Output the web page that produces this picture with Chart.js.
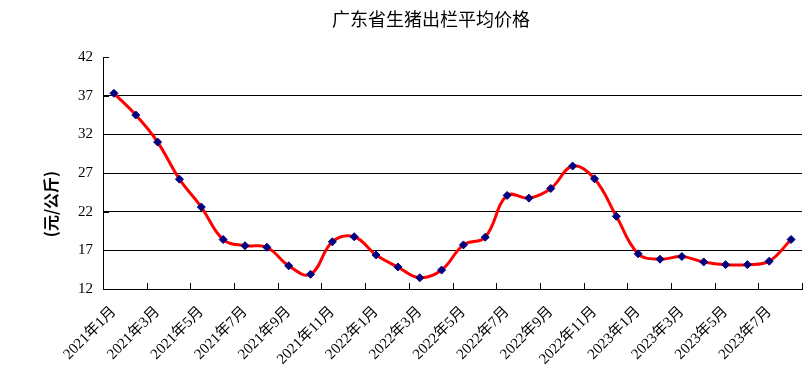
<!DOCTYPE html>
<html>
<head>
<meta charset="utf-8">
<script src="https://cdn.jsdelivr.net/npm/chart.js@4"></script>
<style>
  html, body { margin: 0; padding: 0; background: #fff; }
  #wrap { width: 810px; height: 386px; }
</style>
</head>
<body>
<div id="wrap"><canvas id="price"></canvas></div>
<script>
// monthly labels, 2021-01 .. 2023-08
const months = [
  "2021年1月", "2021年2月", "2021年3月", "2021年4月", "2021年5月", "2021年6月",
  "2021年7月", "2021年8月", "2021年9月", "2021年10月", "2021年11月", "2021年12月",
  "2022年1月", "2022年2月", "2022年3月", "2022年4月", "2022年5月", "2022年6月",
  "2022年7月", "2022年8月", "2022年9月", "2022年10月", "2022年11月", "2022年12月",
  "2023年1月", "2023年2月", "2023年3月", "2023年4月", "2023年5月", "2023年6月",
  "2023年7月", "2023年8月"
];

// 元/公斤
const prices = [
  37.3, 34.5, 31.0, 26.2, 22.6, 18.4, 17.6, 17.4, 15.0, 13.9, 18.1, 18.75,
  16.4, 14.85, 13.45, 14.45, 17.7, 18.7, 24.1, 23.75, 25.0, 27.9, 26.25, 21.4,
  16.55, 15.85, 16.2, 15.5, 15.15, 15.15, 15.6, 18.4
];

const yTicks = [12, 17, 22, 27, 32, 37, 42];

const titleText = "广东省生猪出栏平均价格";
const yLabelText = "(元/公斤)";

// draws title, y label and the small inward tick marks
const decorPlugin = {
  id: "decor",
  afterDraw(chart) {
    const ctx = chart.ctx;
    const area = chart.chartArea;
    const x = chart.scales.x;
    const y = chart.scales.y;

    ctx.save();
    ctx.fillStyle = "#000";
    ctx.font = '18px "Noto Sans CJK SC"';
    ctx.textAlign = "center";
    ctx.textBaseline = "middle";
    ctx.fillText(titleText, 431, 19);

    ctx.translate(51, 204);
    ctx.rotate(-Math.PI / 2);
    ctx.font = 'bold 16px "Noto Sans CJK SC"';
    ctx.fillText(yLabelText, 0, 0);
    ctx.restore();

    ctx.save();
    ctx.strokeStyle = "#000";
    ctx.lineWidth = 1;
    ctx.beginPath();
    const half = (x.getPixelForValue(1) - x.getPixelForValue(0)) / 2;
    for (let i = 0; i <= months.length; i += 2) {
      const px = Math.round(x.getPixelForValue(i) - half) + 0.5;
      ctx.moveTo(px, area.bottom);
      ctx.lineTo(px, area.bottom - 6);
    }
    yTicks.forEach((v) => {
      const py = Math.round(y.getPixelForValue(v)) + 0.5;
      ctx.moveTo(area.left, py);
      ctx.lineTo(area.left + 6, py);
    });
    ctx.stroke();
    ctx.restore();
  },
};

new Chart(document.getElementById("price"), {
  type: "line",
  data: {
    labels: months,
    datasets: [
      {
        data: prices,
        borderColor: "#ff0000",
        borderWidth: 3,
        tension: 0.4,
        pointStyle: "rectRot",
        pointRadius: 4,
        pointBackgroundColor: "#000080",
        pointBorderColor: "#000080",
        pointBorderWidth: 1,
      },
    ],
  },
  options: {
    responsive: true,
    maintainAspectRatio: false,
    animation: false,
    layout: { padding: { top: 57, right: 8, left: 0, bottom: 0 } },
    plugins: {
      legend: { display: false },
      tooltip: { enabled: false },
      title: { display: false },
    },
    scales: {
      x: {
        type: "category",
        offset: true,
        grid: { display: false, drawTicks: false },
        border: { display: true, color: "#000", width: 1 },
        ticks: {
          autoSkip: false,
          maxRotation: 45,
          minRotation: 45,
          padding: 14,
          color: "#000",
          font: { family: '"Liberation Serif", "Noto Sans CJK SC"', size: 15 },
          callback: function (val, i) {
            return i % 2 === 0 ? months[i] : "";
          },
        },
        afterFit(scale) {
          scale.height = 97;
          scale.paddingRight = 0;
          scale.paddingLeft = 0;
        },
      },
      y: {
        min: 12,
        max: 42,
        afterBuildTicks(scale) {
          scale.ticks = yTicks.map((v) => ({ value: v }));
        },
        grid: {
          drawTicks: false,
          color: (c) => (c.tick && c.tick.value === 42 ? "rgba(0,0,0,0)" : "#000"),
          lineWidth: 1,
        },
        border: { display: true, color: "#000", width: 1 },
        ticks: {
          padding: 10,
          color: "#000",
          font: { family: '"Liberation Serif"', size: 15 },
        },
        afterFit(scale) {
          scale.width = 103;
        },
      },
    },
  },
  plugins: [decorPlugin],
});
</script>
</body>
</html>
